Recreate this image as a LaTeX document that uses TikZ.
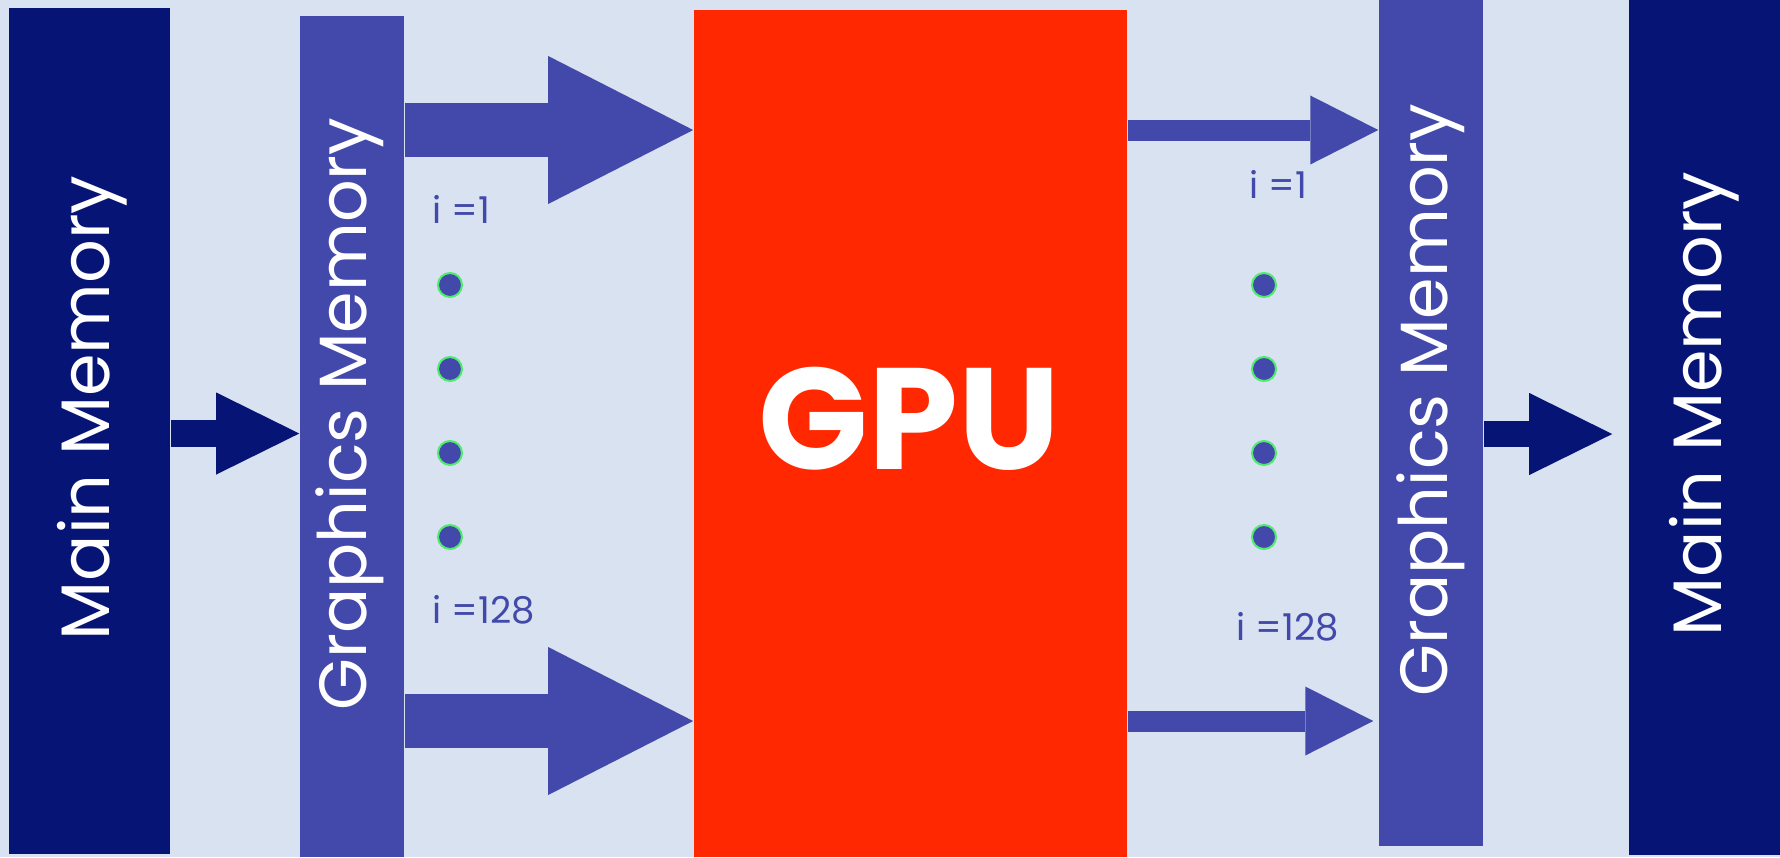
\documentclass[tikz,border=0pt]{standalone}
\usepackage{fontspec}
\setmainfont{Poppins}
\usepackage{tikz}
\usetikzlibrary{arrows.meta}

\definecolor{navy}{RGB}{6,20,118}
\definecolor{gmblue}{RGB}{67,73,170}
\definecolor{gpured}{RGB}{255,40,0}
\definecolor{backblue}{RGB}{216,226,240}
\definecolor{dotgreen}{RGB}{80,235,110}

\begin{document}
\begin{tikzpicture}[x=0.01cm,y=-0.01cm,
    block/.style={inner sep=0pt},
    vtext/.style={text=white,rotate=90,inner sep=0pt,
      font=\fontsize{19.5}{20}\selectfont},
    dot/.style={circle,fill=gmblue,draw=dotgreen,line width=0.02cm,
      minimum size=0.24cm,inner sep=0pt},
    idx/.style={text=gmblue,inner sep=0pt,font=\fontsize{10.5}{11}\selectfont},
    fatarrow/.style={gmblue,line width=0.54cm,
      -{Triangle[length=1.45cm,width=1.48cm,line width'=0pt]}},
    thinarrow/.style={gmblue,line width=0.21cm,
      -{Triangle[length=0.68cm,width=0.69cm,line width'=0pt]}},
    memarrow/.style={navy,line width=0.265cm,
      -{Triangle[length=0.83cm,width=0.82cm,line width'=0pt]}}]

    % Background
    \fill[backblue] (0,0) rectangle (1780,857);
    \useasboundingbox (0,0) rectangle (1780,857);

    % Memory blocks and GPU
    \node[block,fill=navy,minimum width=1.61cm,minimum height=8.46cm] (lmain) at (89.5,431) {};
    \node[block,fill=gmblue,minimum width=1.04cm,minimum height=8.41cm] (lgraph) at (352,436.5) {};
    \node[block,fill=gpured,minimum width=4.33cm,minimum height=8.47cm] (gpu) at (910.5,433.5) {};
    \node[block,fill=gmblue,minimum width=1.04cm,minimum height=8.46cm] (rgraph) at (1431,423) {};
    \node[block,fill=navy,minimum width=1.51cm,minimum height=8.55cm] (rmain) at (1704.5,427.5) {};

    % Labels of the blocks
    \node[vtext] (lmaintext) at (92,408) {Main Memory};
    \node[vtext,font=\fontsize{19}{20}\selectfont] (lgraphtext) at (350,414) {Graphics Memory};
    \node[text=white,font=\fontsize{41}{42}\bfseries\selectfont] (gputext) at (909,419) {GPU};
    \node[vtext,font=\fontsize{19}{20}\selectfont] (rgraphtext) at (1431,400) {Graphics Memory};
    \node[vtext] (rmaintext) at (1704,404) {Main Memory};

    % Draw arrows
    \draw[memarrow] (lmain.east |- 0,433.5) -- (lgraph.west |- 0,433.5);
    \draw[fatarrow] (lgraph.east |- 0,130) -- (gpu.west |- 0,130);
    \draw[fatarrow] (lgraph.east |- 0,721) -- (gpu.west |- 0,721);
    \draw[thinarrow] (gpu.east |- 0,130) -- (rgraph.west |- 0,130);
    \draw[thinarrow,shorten >=0.05cm] (gpu.east |- 0,721) -- (rgraph.west |- 0,721);
    \draw[memarrow,shorten >=0.16cm] (rgraph.east |- 0,434) -- (rmain.west |- 0,434);

    % Dots and index labels
    \foreach \y [count=\k] in {285,369,453,537} {
      \node[dot] (ldot\k) at (450,\y) {};
      \node[dot] (rdot\k) at (1264,\y) {};
    }
    \node[idx,anchor=base west] (lfirst) at (432,223) {i =1};
    \node[idx,anchor=base west] (llast) at (432,623) {i =128};
    \node[idx,anchor=base west] (rfirst) at (1249,198) {i =1};
    \node[idx,anchor=base west] (rlast) at (1236,640) {i =128};
\end{tikzpicture}
\end{document}
